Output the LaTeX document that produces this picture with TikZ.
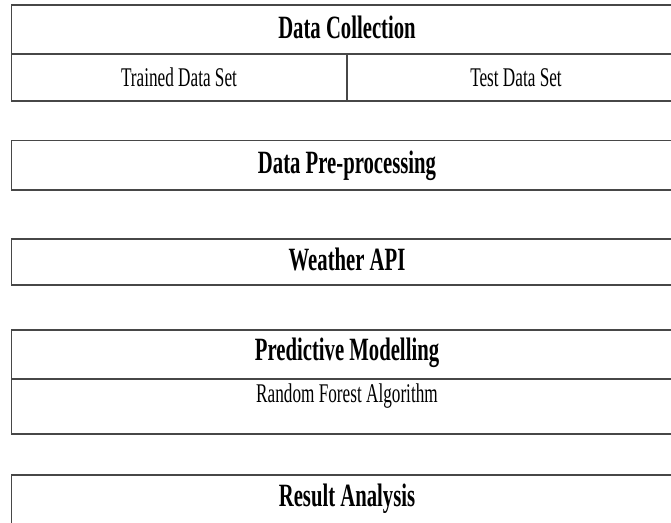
\documentclass[tikz,border=0pt]{standalone}
\usepackage{fontspec}
\setmainfont{Liberation Serif}[FakeStretch=0.637]
\begin{document}
\begin{tikzpicture}[x=1pt,y=-1pt,
  boxline/.style={draw=black!72, line width=1.6pt},
  headtext/.style={font=\fontsize{32.5}{32.5}\selectfont\bfseries, anchor=base, inner sep=0pt},
  subtext/.style={font=\fontsize{27}{27}\selectfont, anchor=base, inner sep=0pt}]
\useasboundingbox (0,0) rectangle (671,522);
\clip (0,0) rectangle (671,522);
% Data Collection
\draw[boxline] (11.5,5) rectangle (685,101);
\draw[boxline] (11.5,54) -- (685,54);
\draw[boxline] (347,54) -- (347,101);
\node[headtext] (dc) at (347,38) {Data Collection};
\node[subtext] (tr) at (179,86) {Trained Data Set};
\node[subtext] (te) at (516,86) {Test Data Set};
% Data Pre-processing
\draw[boxline] (11.5,140.5) rectangle (685,190);
\node[headtext] (dp) at (347,173) {Data Pre-processing};
% Weather API
\draw[boxline] (11.5,239) rectangle (685,285);
\node[headtext] (wa) at (347,270) {Weather API};
% Predictive Modelling
\draw[boxline] (11.5,330) rectangle (685,434);
\draw[boxline] (11.5,379) -- (685,379);
\node[headtext] (pm) at (347,360) {Predictive Modelling};
\node[subtext] (rf) at (347,402) {Random Forest Algorithm};
% Result Analysis
\draw[boxline] (685,475) -- (11.5,475) -- (11.5,540);
\node[headtext] (ra) at (347,506) {Result Analysis};
\end{tikzpicture}
\end{document}
